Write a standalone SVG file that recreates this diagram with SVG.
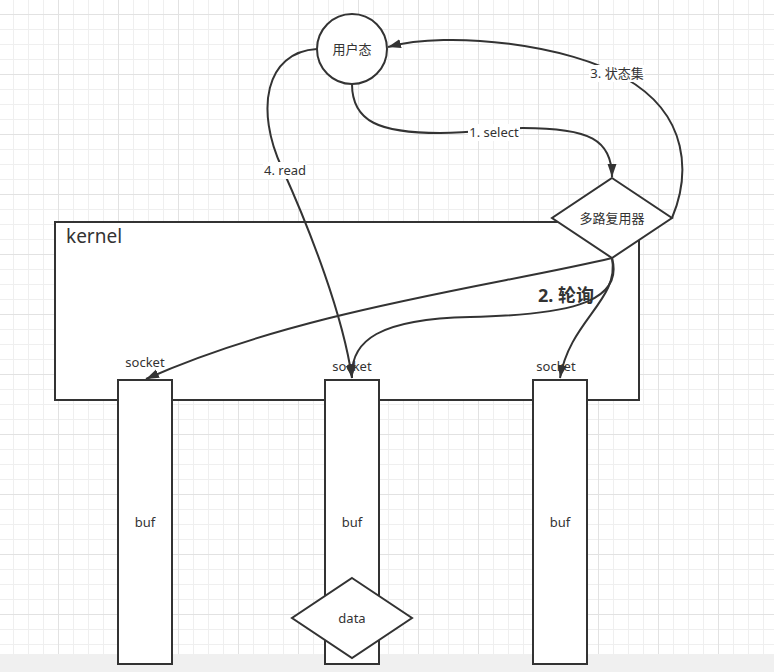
<svg xmlns="http://www.w3.org/2000/svg" width="774" height="672" viewBox="0 0 774 672">
<style>
text{font-family:"Noto Sans","Noto Sans CJK SC",sans-serif;fill:#333;font-size:13px;text-anchor:middle;dominant-baseline:central}
.shape{fill:#fff;stroke:#333;stroke-width:2}
.edge{fill:none;stroke:#333;stroke-width:2}
.lbl{fill:#fff;stroke:none}
</style>
<defs>
<pattern id="grid" patternUnits="userSpaceOnUse" x="58" y="14" width="60" height="60">
<path d="M15.5,0V60M30.5,0V60M45.5,0V60M0,15.5H60M0,30.5H60M0,45.5H60" stroke="#efefef" stroke-width="1" fill="none"/>
<path d="M0.5,0V60M0,0.5H60" stroke="#e2e2e2" stroke-width="1" fill="none"/>
</pattern>
<marker id="arr" markerUnits="userSpaceOnUse" markerWidth="14" markerHeight="10" refX="13" refY="4.5" orient="auto">
<path d="M0,0L13,4.5L0,9z" fill="#333"/>
</marker>
</defs>
<rect width="774" height="672" fill="#fff"/>
<rect width="774" height="672" fill="url(#grid)"/>
<rect x="0" y="654" width="774" height="18" fill="#f0f0f0"/>
<g id="kernel">
<rect class="shape" x="55" y="222" width="584" height="178"/>
<text x="66" y="236" style="text-anchor:start;font-size:19px">kernel</text>
</g>
<g id="poll-label">
<text x="566" y="295" style="font-size:18px;font-weight:bold">2. 轮询</text>
</g>
<g id="user">
<circle class="shape" cx="352" cy="49" r="35"/>
<text x="352" y="49">用户态</text>
</g>
<g id="mux">
<polygon class="shape" points="612,178 672,218 612,258 552,218"/>
<text x="612" y="218">多路复用器</text>
</g>
<g id="socket1">
<rect class="shape" x="118" y="380" width="54" height="284"/>
<text x="145" y="522">buf</text>
<text x="145" y="362">socket</text>
</g>
<g id="socket2">
<rect class="shape" x="325" y="380" width="54" height="284"/>
<text x="352" y="522">buf</text>
<text x="352" y="366">socket</text>
</g>
<g id="socket3">
<rect class="shape" x="533" y="380" width="54" height="284"/>
<text x="560" y="522">buf</text>
<text x="556" y="366">socket</text>
</g>
<g id="data">
<polygon class="shape" points="352,578 412,618 352,658 292,618"/>
<text x="352" y="618">data</text>
</g>
<g id="connectors">
<path class="edge" marker-end="url(#arr)" d="M352,84C352,122 380,133 440,133C480,133 490,128 523,128C590,128 612,140 612,177"/>
<rect class="lbl" x="468" y="124" width="52" height="17"/>
<text x="494" y="132">1. select</text>
<path class="edge" marker-end="url(#arr)" d="M672,218C690,175 690,115 625,78C570,45 450,30 388,47"/>
<rect class="lbl" x="589" y="65" width="56" height="17"/>
<text x="617" y="73">3. 状态集</text>
<path class="edge" marker-end="url(#arr)" d="M317,49C265,52 255,110 282,168C310,230 343,315 352,378"/>
<rect class="lbl" x="263" y="162" width="44" height="17"/>
<text x="285" y="170">4. read</text>
<path class="edge" marker-end="url(#arr)" d="M612,258C500,285 300,310 146,379"/>
<path class="edge" marker-end="url(#arr)" d="M612,258C625,305 560,315 470,317C380,319 350,340 352,378"/>
<path class="edge" marker-end="url(#arr)" d="M612,258C620,300 570,320 560,378"/>
</g>
</svg>
